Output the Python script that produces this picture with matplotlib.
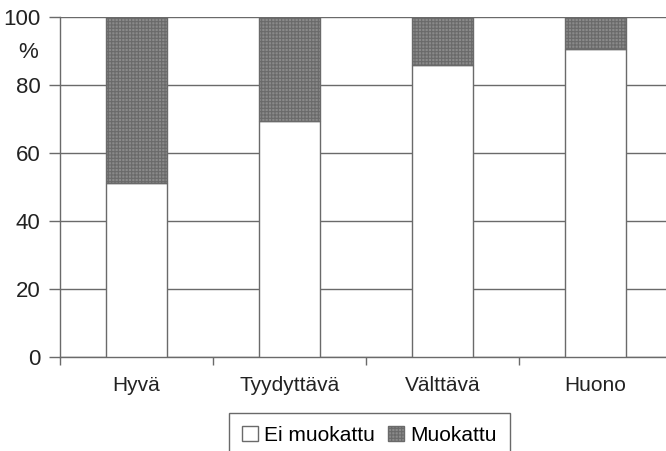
import matplotlib
matplotlib.use("Agg")
import matplotlib.pyplot as plt
import numpy as np

categories = ["Hyvä", "Tyydyttävä", "Välttävä", "Huono"]
ei_muokattu = [51.2, 69.3, 86.0, 90.7]
muokattu = [48.8, 30.7, 14.0, 9.3]
series_names = ["Ei muokattu", "Muokattu"]
yticks = [0, 20, 40, 60, 80, 100]

plt.rcParams['font.family'] = ['Liberation Sans', 'DejaVu Sans']
plt.rcParams['hatch.linewidth'] = 0.8
plt.rcParams['hatch.color'] = '#3c3c3c'

fig = plt.figure(figsize=(6.66, 4.51), dpi=100)
ax = fig.add_axes([60/666, 1-357/451, 612/666, 340/451])

x = np.arange(len(categories))
gc = '#6a6a6a'
ax.bar(x, ei_muokattu, width=0.4, color='white', edgecolor=gc, linewidth=1.0, zorder=3, label=series_names[0])
ax.bar(x, muokattu, bottom=ei_muokattu, width=0.4, color='#8a8a8a', edgecolor=gc, linewidth=1.0,
       hatch='+++++', zorder=3, label=series_names[1])

ax.set_xlim(-0.5, len(categories) - 0.5)
ax.set_ylim(0, 100)
ax.set_yticks(yticks)
ax.set_yticklabels([str(v) for v in yticks], fontsize=16, color='#222222')
ax.yaxis.grid(True, color=gc, linewidth=1.0, zorder=0)
ax.set_axisbelow(True)

ax.set_xticks(x)
ax.set_xticklabels(categories, fontsize=15, color='#222222')
ax.set_xticks(np.arange(len(categories) + 1) - 0.5, minor=True)
ax.tick_params(axis='x', which='major', length=0, pad=14)
ax.tick_params(axis='x', which='minor', length=6, color=gc, width=1.0, direction='out')
ax.tick_params(axis='y', length=8, color=gc, width=1.0, pad=6)

for s in ['top', 'right']:
    ax.spines[s].set_visible(False)
for s in ['left', 'bottom']:
    ax.spines[s].set_color(gc)
    ax.spines[s].set_linewidth(1.0)

fig.text(28/666, 1-52/451, "%", fontsize=16, ha='center', va='center', color='#222222')

leg = fig.legend(loc='upper left', bbox_to_anchor=(229/666, 1-413/451), ncol=2, fontsize=15,
                 frameon=True, fancybox=False, edgecolor='#444444', handlelength=0.8,
                 handleheight=0.8, handletextpad=0.3, columnspacing=0.6, borderpad=0.6,
                 borderaxespad=0)
leg.get_frame().set_linewidth(1.0)

fig.savefig("out.png", dpi=100)
